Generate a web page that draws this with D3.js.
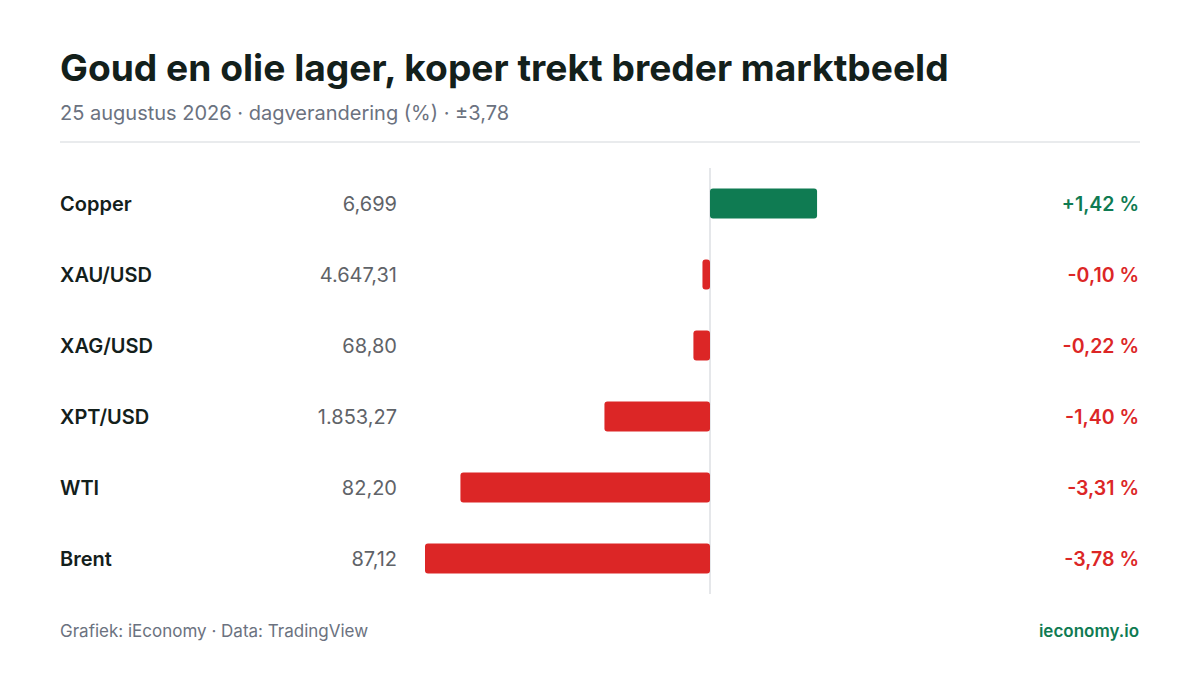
<!DOCTYPE html>
<html><head><meta charset="utf-8">
<script src="https://cdn.jsdelivr.net/npm/d3@7"></script>
<style>body{margin:0;background:#fff}svg{font-family:Inter,"Noto Sans",sans-serif}</style>
</head><body><svg id="chart" width="1200" height="675"></svg>
<script>
var names = ["Copper", "XAU/USD", "XAG/USD", "XPT/USD", "WTI", "Brent"];
var prices = ["6,699", "4.647,31", "68,80", "1.853,27", "82,20", "87,12"];
var changes = [1.42, -0.10, -0.22, -1.40, -3.31, -3.78];

var svg = d3.select("#chart");
var green = "#0f7b52", red = "#dc2626";

svg.append("text").attr("x", 60).attr("y", 81).attr("font-size", 37.2).attr("font-weight", 700)
    .attr("fill", "#13201b").text("Goud en olie lager, koper trekt breder marktbeeld");
svg.append("text").attr("x", 60).attr("y", 120).attr("font-size", 20).attr("fill", "#6b7280")
    .text("25 augustus 2026 · dagverandering (%) · ±3,78");
svg.append("line").attr("x1", 60).attr("x2", 1140).attr("y1", 142).attr("y2", 142)
    .attr("stroke", "#e2e4e7").attr("stroke-width", 1.5);

var x = d3.scaleLinear().domain([-3.78, 3.78]).range([425, 995]);
var y = d3.scaleBand().domain(names).range([168, 594]).paddingInner(0.58).paddingOuter(0.29);

svg.append("line").attr("x1", x(0)).attr("x2", x(0)).attr("y1", 168).attr("y2", 594)
    .attr("stroke", "#dcdfe3").attr("stroke-width", 1.5);

var fmt = function (v) {
    return (v > 0 ? "+" : "-") + Math.abs(v).toFixed(2).replace(".", ",") + " %";
};

names.forEach(function (n, i) {
    var c = changes[i] >= 0 ? green : red;
    var cy = y(n) + y.bandwidth() / 2;
    svg.append("rect")
        .attr("x", Math.min(x(0), x(changes[i])))
        .attr("width", Math.abs(x(changes[i]) - x(0)))
        .attr("y", y(n)).attr("height", y.bandwidth())
        .attr("rx", 3).attr("fill", c);
    svg.append("text").attr("x", 60).attr("y", cy + 7).attr("font-size", 20).attr("font-weight", 600)
        .attr("fill", "#13201b").text(n);
    svg.append("text").attr("x", 397).attr("y", cy + 7).attr("font-size", 20).attr("text-anchor", "end")
        .attr("fill", "#5f6368").text(prices[i]);
    svg.append("text").attr("x", 1139).attr("y", cy + 7).attr("font-size", 19.5).attr("font-weight", 600)
        .attr("text-anchor", "end").attr("fill", c).text(fmt(changes[i]));
});

svg.append("text").attr("x", 60).attr("y", 637).attr("font-size", 17).attr("fill", "#6b7280")
    .text("Grafiek: iEconomy · Data: TradingView");
svg.append("text").attr("x", 1139).attr("y", 637).attr("font-size", 17).attr("font-weight", 600)
    .attr("text-anchor", "end").attr("fill", green).text("ieconomy.io");
</script></body></html>
